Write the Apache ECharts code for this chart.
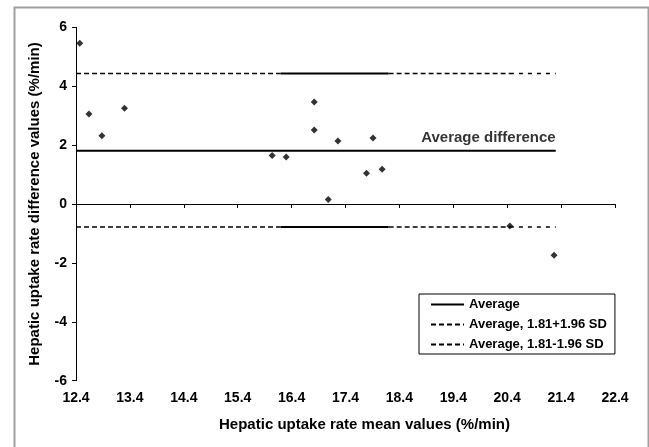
<!DOCTYPE html>
<html><head><meta charset="utf-8">
<script src="https://cdn.jsdelivr.net/npm/echarts@6/dist/echarts.min.js"></script>
<style>html,body{margin:0;padding:0;background:#fff}#c{width:649px;height:447px}</style>
</head><body><div id="c"></div>
<script>
// ---- data ----
const meanValues = [12.47, 12.64, 12.88, 13.30, 16.04, 16.30, 16.82, 16.82, 17.08, 17.26, 17.91, 17.79, 18.08, 20.45, 21.27];
const diffValues = [5.46, 3.06, 2.32, 3.25, 1.65, 1.60, 3.46, 2.51, 0.15, 2.14, 2.24, 1.04, 1.18, -0.75, -1.74];
const xTickLabels = ['12.4', '13.4', '14.4', '15.4', '16.4', '17.4', '18.4', '19.4', '20.4', '21.4', '22.4'];
const averageDiff = 1.81;
const upperLimit = 4.43;
const lowerLimit = -0.78;
const lineBreaks = [12.4, 16.2, 18.2, 20.45, 21.3];
const legendNames = ['Average', 'Average, 1.81+1.96 SD', 'Average, 1.81-1.96 SD'];
const annotationText = 'Average difference';

// ---- chart ----
const FONT = 'Liberation Sans, Arial, sans-serif';
const segTypes = [[5, 3], 'solid', [5, 3], [4, 5]];
const segWidths = [1.5, 2, 1.5, 1.5];

function limitSeries(name, y) {
  const out = [];
  for (let i = 0; i < lineBreaks.length - 1; i++) {
    out.push({
      name: name, type: 'line', xAxisIndex: 1, symbol: 'none', silent: true,
      data: [[lineBreaks[i], y], [lineBreaks[i + 1], y]],
      lineStyle: { color: '#000', width: segWidths[i], type: segTypes[i] },
      itemStyle: { color: '#000', opacity: 0 }
    });
  }
  return out;
}

const chart = echarts.init(document.getElementById('c'), null, { renderer: 'canvas' });
const option = {
  backgroundColor: '#fff',
  animation: false,
  grid: { left: 76, right: 34, top: 27.3, bottom: 66.3, containLabel: false, outerBoundsMode: 'none' },
  graphic: [{
    type: 'rect', left: 12, top: 5, silent: true,
    shape: { width: 634, height: 460 },
    style: { fill: 'none', stroke: '#a0a0a0', lineWidth: 2 }
  }],
  xAxis: [{
    type: 'category', data: xTickLabels, boundaryGap: false, position: 'bottom',
    axisLine: { lineStyle: { color: '#000', width: 1 } },
    axisTick: { show: true, inside: false, length: 4, alignWithLabel: true, lineStyle: { color: '#000' } },
    axisLabel: { margin: 10, color: '#000', fontFamily: FONT, fontWeight: 'bold', fontSize: 14 },
    splitLine: { show: false },
    name: 'Hepatic uptake rate mean values (%/min)', nameLocation: 'middle', nameGap: 37,
    nameTextStyle: { color: '#000', fontFamily: FONT, fontWeight: 'bold', fontSize: 15, padding: [0, 0, 0, 38] }
  }, {
    type: 'value', min: 12.4, max: 22.4, show: false
  }],
  yAxis: {
    type: 'value', min: -6, max: 6, interval: 2,
    axisLine: { show: true, lineStyle: { color: '#000', width: 1 } },
    axisTick: { show: true, inside: false, length: 4, lineStyle: { color: '#000' } },
    axisLabel: { margin: 9, color: '#000', fontFamily: FONT, fontWeight: 'bold', fontSize: 14 },
    splitLine: { show: false },
    name: 'Hepatic uptake rate difference values (%/min)', nameLocation: 'middle', nameGap: 34, nameRotate: 90,
    nameTextStyle: { color: '#000', fontFamily: FONT, fontWeight: 'bold', fontSize: 15 }
  },
  legend: {
    data: legendNames, orient: 'vertical', left: 419, top: 294,
    itemWidth: 33, itemHeight: 14, itemGap: 7,
    padding: [4, 8, 3, 11],
    borderColor: '#000', borderWidth: 1, backgroundColor: '#fff',
    selectedMode: false,
    itemStyle: { opacity: 0, borderWidth: 0 },
    textStyle: { color: '#000', fontFamily: FONT, fontWeight: 'bold', fontSize: 13 }
  },
  series: [
    {
      name: 'Data', type: 'scatter', xAxisIndex: 1, symbol: 'diamond', symbolSize: 7, silent: true,
      itemStyle: { color: '#000' },
      data: meanValues.map((m, i) => [m, diffValues[i]]),
      z: 5
    },
    {
      name: legendNames[0], type: 'line', xAxisIndex: 1, symbol: 'none', silent: true,
      data: [[lineBreaks[0], averageDiff], [lineBreaks[lineBreaks.length - 1], averageDiff]],
      lineStyle: { color: '#000', width: 2, type: 'solid' }, itemStyle: { color: '#000', opacity: 0 }
    },
    ...limitSeries(legendNames[1], upperLimit),
    ...limitSeries(legendNames[2], lowerLimit),
    {
      name: 'annotation', type: 'scatter', xAxisIndex: 1, symbolSize: 0, silent: true,
      data: [[lineBreaks[lineBreaks.length - 1], averageDiff]],
      label: {
        show: true, formatter: annotationText, position: 'left', distance: 0, offset: [0, -13],
        color: '#000', fontFamily: FONT, fontWeight: 'bold', fontSize: 15
      }
    }
  ]
};
chart.setOption(option);
</script>
</body></html>
